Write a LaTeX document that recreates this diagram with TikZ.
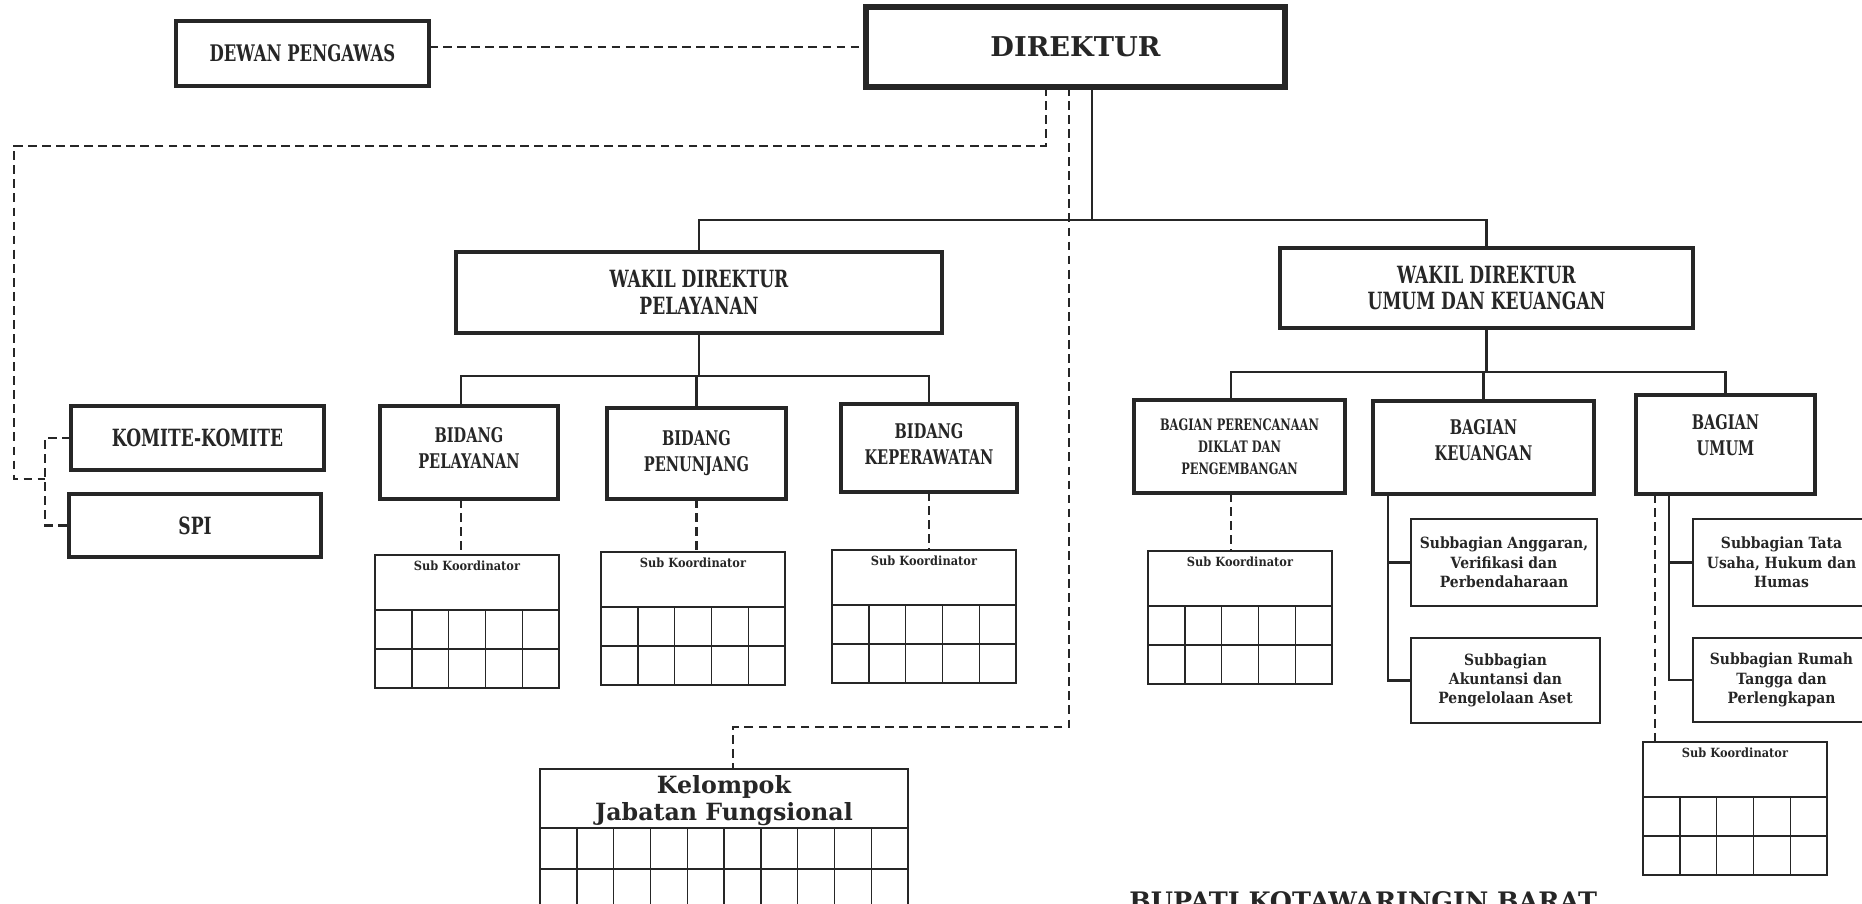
\documentclass[tikz,border=0pt]{standalone}
\usepackage{fontspec}
\setmainfont{DejaVu Serif}
\newfontfamily\headfont[FakeStretch=0.72]{DejaVu Serif}
\newfontfamily\subfont[FakeStretch=0.9]{DejaVu Serif}
\usepackage{tikz}
\usetikzlibrary{positioning,calc}
\colorlet{ink}{black!85}

\begin{document}
\begin{tikzpicture}[
    x=0.02cm, y=-0.02cm,
    mainbox/.style={
        draw=ink,
        line width=2pt,
        align=center,
        inner sep=0pt,
        outer sep=0pt,
        text=ink,
        font=\headfont\bfseries\fontsize{13.5}{15.2}\selectfont
    },
    topbox/.style={
        mainbox,
        line width=3pt,
        font=\bfseries\fontsize{15.5}{18}\selectfont
    },
    unitbox/.style={
        mainbox,
        line width=1.8pt,
        font=\headfont\bfseries\fontsize{11.5}{14.8}\selectfont
    },
    subbox/.style={
        draw=ink,
        line width=1.4pt,
        align=center,
        inner sep=0pt,
        outer sep=0pt,
        text=ink,
        font=\subfont\bfseries\fontsize{8.8}{11}\selectfont
    },
    tablebox/.style={
        draw=ink,
        line width=0.8pt,
        inner sep=0pt,
        outer sep=0pt,
        anchor=north west,
        minimum width=3.68cm,
        minimum height=2.66cm
    },
    tabletext/.style={
        text=ink,
        inner sep=3pt,
        anchor=north,
        font=\subfont\bfseries\fontsize{7.2}{8}\selectfont
    },
    gridline/.style={draw=ink, line width=0.8pt},
    solidline/.style={draw=ink, line width=1.2pt},
    dashline/.style={draw=ink, line width=1.2pt, dash pattern=on 5pt off 3pt}
]
\useasboundingbox (0,0) rectangle (1862,903);
\clip (0,0) rectangle (1862,903);

% top level
\node[topbox, minimum width=8.38cm, minimum height=1.60cm] (dir) at (1075.5,47) {DIREKTUR};
\node[mainbox, minimum width=5.06cm, minimum height=1.30cm, font=\headfont\bfseries\fontsize{13}{15}\selectfont] (dewan) at (302.5,53.5) {DEWAN PENGAWAS};
\node[mainbox, minimum width=5.06cm, minimum height=1.28cm] (komite) at (197.5,438) {KOMITE-KOMITE};
\node[mainbox, minimum width=5.04cm, minimum height=1.26cm] (spi) at (195,525.5) {SPI};

% wakil direktur
\node[mainbox, minimum width=9.72cm, minimum height=1.62cm] (wdp) at (699,292.5) {WAKIL DIREKTUR\\PELAYANAN};
\node[mainbox, minimum width=8.26cm, minimum height=1.60cm] (wdu) at (1486.5,288) {WAKIL DIREKTUR\\UMUM DAN KEUANGAN};

% bidang
\node[unitbox, minimum width=3.56cm, minimum height=1.86cm, text depth=5.6pt] (bpel) at (469,452.5) {BIDANG\\PELAYANAN};
\node[unitbox, minimum width=3.58cm, minimum height=1.82cm] (bpen) at (696.5,453.5) {BIDANG\\PENUNJANG};
\node[unitbox, minimum width=3.52cm, minimum height=1.76cm, text depth=4.5pt] (bkep) at (929,448) {BIDANG\\KEPERAWATAN};

% bagian
\node[unitbox, minimum width=4.22cm, minimum height=1.86cm, font=\headfont\bfseries\fontsize{9}{12.5}\selectfont] (bren) at (1239.5,446.5) {BAGIAN PERENCANAAN\\DIKLAT DAN\\PENGEMBANGAN};
\node[unitbox, minimum width=4.42cm, minimum height=1.86cm, text depth=9pt] (bkeu) at (1483.5,447.5) {BAGIAN\\KEUANGAN};
\node[unitbox, minimum width=3.58cm, minimum height=1.98cm, text depth=11pt] (bumum) at (1725.5,444.5) {BAGIAN\\UMUM};

% subbagian
\node[subbox, minimum width=3.72cm, minimum height=1.74cm] (sang) at (1504,562.5) {Subbagian Anggaran,\\Verifikasi dan\\Perbendaharaan};
\node[subbox, minimum width=3.78cm, minimum height=1.70cm] (saku) at (1505.5,680.5) {Subbagian\\Akuntansi dan\\Pengelolaan Aset};
\node[subbox, minimum width=3.54cm, minimum height=1.74cm] (stata) at (1781.5,562.5) {Subbagian Tata\\Usaha, Hukum dan\\Humas};
\node[subbox, minimum width=3.54cm, minimum height=1.68cm] (srt) at (1781.5,680) {Subbagian Rumah\\Tangga dan\\Perlengkapan};

% sub koordinator tables
\node[tablebox] (sk1) at (375,555) {};
\node[tablebox] (sk2) at (601,552) {};
\node[tablebox] (sk3) at (832,550) {};
\node[tablebox] (sk4) at (1148,551) {};
\node[tablebox] (sk5) at (1643,742) {};
\foreach \t in {sk1,sk2,sk3,sk4,sk5} {
    \node[tabletext] (\t text) at (\t.north) {Sub Koordinator};
    \begin{scope}[shift={(\t.north west)}]
        \draw[gridline] (0,55) -- (184,55);
        \draw[gridline] (0,94) -- (184,94);
        \foreach \i in {1,...,4}
            \draw[gridline] (\i*36.8,55) -- (\i*36.8,133);
    \end{scope}
}

% kelompok jabatan fungsional
\node[tablebox, minimum width=7.36cm, minimum height=2.82cm] (kjf) at (540,769) {};
\node[tabletext, inner sep=3.6pt, font=\bfseries\fontsize{13.5}{15}\selectfont, align=center] (kjftext) at (kjf.north) {Kelompok\\Jabatan Fungsional};
\begin{scope}[shift={(kjf.north west)}]
    \draw[gridline] (0,59) -- (368,59);
    \draw[gridline] (0,100) -- (368,100);
    \foreach \i in {1,...,9}
        \draw[gridline] (\i*36.8,59) -- (\i*36.8,141);
\end{scope}

\node[anchor=north west, inner sep=0pt, text=ink, font=\bfseries\fontsize{14.5}{17}\selectfont] (bupati) at (1129,891) {BUPATI KOTAWARINGIN BARAT};

% solid lines of command
\coordinate (bus0) at (1092,220);
\coordinate (bus1) at (698,376);
\coordinate (bus2) at (1487,372);
\coordinate (pelv) at (461,0);
\coordinate (renv) at (1231,0);
\coordinate (keuv) at (1388,0);
\coordinate (umuv) at (1669,0);
\draw[solidline] (dir.south -| bus0) -- (bus0);
\draw[solidline] (wdp.north) |- (bus0) -| (wdu.north);
\draw[solidline] (wdp.south) -- (wdp.south |- bus1);
\draw[solidline] (bpel.north -| pelv) |- (bus1) -| (bkep.north);
\draw[solidline] (bpen.north) -- (bpen.north |- bus1);
\draw[solidline] (wdu.south) -- (wdu.south |- bus2);
\draw[solidline] (bren.north -| renv) |- (bus2) -| (bumum.north);
\draw[solidline] (bkeu.north) -- (bkeu.north |- bus2);
\draw[solidline] (bkeu.south -| keuv) |- (sang.west);
\draw[solidline] (bkeu.south -| keuv) |- (saku.west);
\draw[solidline] (bumum.south -| umuv) |- (stata.west);
\draw[solidline] (bumum.south -| umuv) |- (srt.west);

% dashed lines of coordination
\coordinate (dA) at (1046,146);
\coordinate (dB) at (14,479);
\coordinate (dC) at (45,479);
\coordinate (dK) at (1069,727);
\coordinate (kjfv) at (733,0);
\coordinate (dU) at (1655,0);
\draw[dashline] (dewan.east |- dir.west) -- (dir.west);
\draw[dashline] (dir.south -| dA) -- (dA) -| (dB) -- (dC);
\draw[dashline] (komite.west) -- (komite.west -| dC) -- (spi.west -| dC) -- (spi.west);
\draw[dashline] (dir.south -| dK) -- (dK) -| (kjf.north -| kjfv);
\draw[dashline] (bpel.south -| pelv) -- (sk1.north -| pelv);
\draw[dashline] (bpen.south) -- (bpen.south |- sk2.north);
\draw[dashline] (bkep.south) -- (bkep.south |- sk3.north);
\draw[dashline] (bren.south -| renv) -- (sk4.north -| renv);
\draw[dashline] (bumum.south -| dU) -- (sk5.north -| dU);

\end{tikzpicture}
\end{document}
